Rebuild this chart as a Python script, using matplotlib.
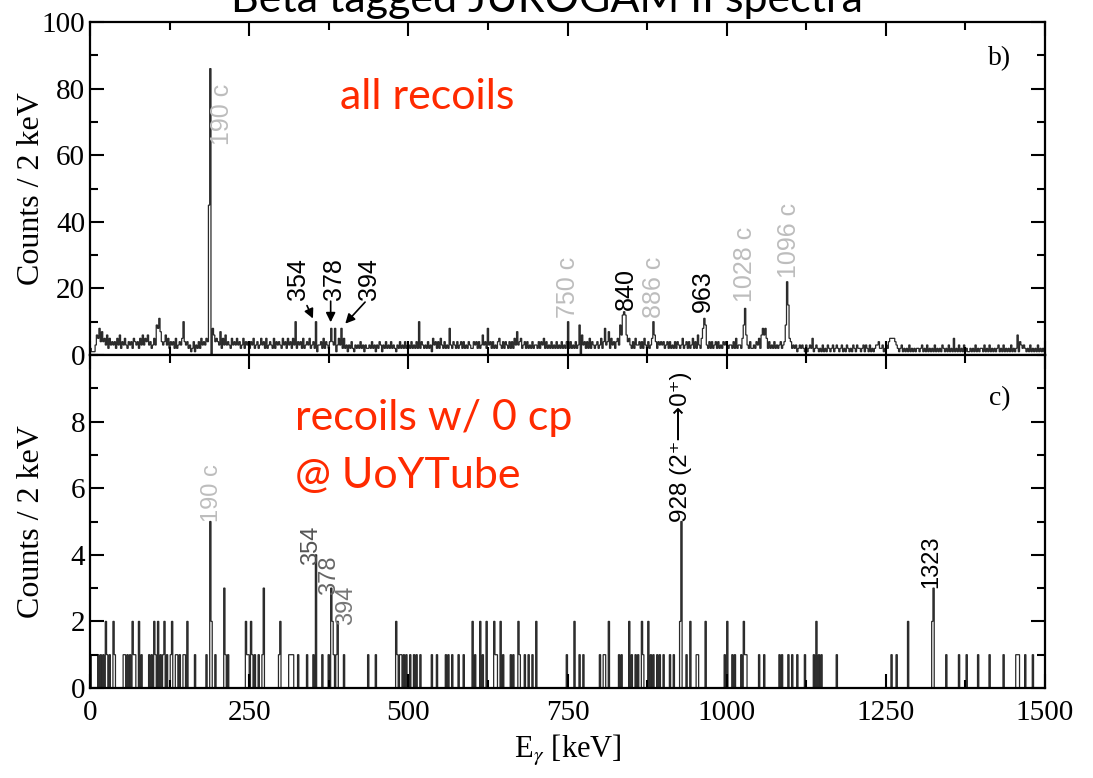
import numpy as np
import matplotlib
matplotlib.use("Agg")
import matplotlib.pyplot as plt
from matplotlib.ticker import MultipleLocator

plt.rcParams["mathtext.fontset"] = "stix"

# ---- data ---------------------------------------------------------------
bin_width = 2  # keV
energy_max = 1500

# top spectrum "all recoils": background read per 2 keV bin (one digit per bin,
# each row = 100 keV), taller bins listed separately
top_rows = [
    "2111365847" "4536253434" "2536243532" "4342543425" "3635463423",  # 0-98
    "5398574346" "3524342523" "4352434231" "2413242534" "3543008645",  # 100-198
    "4372536343" "2534353423" "5243424352" "3423534252" "3432524343",  # 200-298
    "2534253425" "3924342523" "4352342913" "3425243248" "4381353825",  # 300-398
    "2313242132" "3242313223" "2423132431" "3242324232" "1324232423",  # 400-498
    "3242324292" "4323242315" "3424253242" "3283243242" "3424232432",  # 500-598
    "2434242363" "4283424232" "4532424324" "2425373452" "3424232423",  # 600-698
    "3242435242" "3242324232" "4232432423" "2423906342" "4252432342",  # 700-798
    "3524834725" "3424539600" "0645324253" "3424253242" "3596424343",  # 800-898
    "4234242324" "2432352342" "4235242632" "5809324242" "3424232434",  # 900-998
    "3233242523" "3259063242" "2324352686" "8524232423" "2342349005",  # 1000-1098
    "4232312323" "2131232512" "3212131213" "2123123212" "3121321213",  # 1100-1198
    "2132212313" "2131212334" "2231232455" "5543212312" "1213121212",  # 1200-1298
    "2123121312" "1213121213" "2121312151" "2131213121" "1212131212",  # 1300-1398
    "2131213121" "2123121312" "1213121261" "4323212131" "2121312121",  # 1400-1498
]
top_peaks = {108: 11, 146: 10, 186: 45, 188: 86, 322: 10, 354: 10, 516: 10,
             750: 10, 836: 12, 838: 13, 840: 12, 884: 10, 964: 11,
             1028: 14, 1094: 22, 1096: 15}

# bottom spectrum "recoils w/ 0 cp": sparse, bins with 1 count and the rest
bot_ones = [0, 12, 16, 20, 26, 30, 38, 52, 54, 58, 62, 68, 70, 80, 92, 96,
            102, 110, 114, 120, 126, 134, 136, 140, 146, 148, 164, 182, 196,
            212, 216, 246, 248, 254, 258, 264, 270, 296, 312, 314, 316, 318,
            326, 340, 350, 364, 374, 382, 386, 398, 436, 448, 482, 486,
            488, 492, 496, 502, 508, 512, 518, 536, 544, 558, 562, 568, 578,
            586, 604, 616, 636, 638, 648, 660, 664, 674, 682, 688, 694,
            748, 768, 774, 800, 806, 808, 830, 834, 850, 856, 860, 868, 880,
            884, 890, 894, 900, 910, 916, 936, 952, 954, 996, 1008, 1012,
            1022, 1028, 1030, 1050, 1058, 1082, 1086, 1096, 1102, 1110, 1122,
            1136, 1144, 1148, 1172, 1258, 1266, 1344, 1364, 1376, 1394, 1412,
            1434, 1454, 1456, 1458, 1468, 1480]
bot_multi = {24: 2, 36: 2, 66: 2, 76: 2, 100: 2, 106: 2, 116: 2, 128: 2,
             152: 2, 188: 5, 190: 2, 210: 3, 244: 2, 252: 2, 272: 3, 298: 2,
             354: 4, 378: 3, 380: 2, 388: 2, 480: 2, 600: 2, 612: 2, 622: 2,
             634: 2, 644: 2, 672: 2, 700: 2, 760: 2, 814: 2, 846: 2, 866: 2,
             876: 2, 926: 2, 928: 5, 942: 2, 966: 2, 1000: 2, 1026: 2,
             1140: 2, 1284: 2, 1322: 2, 1324: 3}

# ---- build histograms ----------------------------------------------------
edges = np.arange(0, energy_max + bin_width, bin_width)
top_counts = np.array([int(ch) for ch in "".join(top_rows)], dtype=float)
for e, v in top_peaks.items():
    top_counts[e // bin_width] = v
bot_counts = np.zeros(len(edges) - 1)
for e in bot_ones:
    bot_counts[e // bin_width] = 1
for e, v in bot_multi.items():
    bot_counts[e // bin_width] = v

# ---- figure ---------------------------------------------------------------
W, H = 1093, 778
fig = plt.figure(figsize=(W / 100, H / 100), dpi=100)
fig.patch.set_facecolor("white")

def px_axes(x0, y0, x1, y1):
    return fig.add_axes([x0 / W, 1 - y1 / H, (x1 - x0) / W, (y1 - y0) / H])

ax_top = px_axes(90, 22, 1045, 355)
ax_bot = px_axes(90, 355, 1045, 688)

SERIF = ["Liberation Serif", "DejaVu Serif"]
SANS = ["Liberation Sans", "DejaVu Sans"]
SLIDE = ["Lato", "DejaVu Sans"]
RED = "#FF2A00"
GREY = "#BDBDBD"
LINE = "#2A2A2A"

for ax in (ax_top, ax_bot):
    ax.set_xlim(0, energy_max)
    ax.xaxis.set_major_locator(MultipleLocator(250))
    ax.xaxis.set_minor_locator(MultipleLocator(125))
    ax.tick_params(which="both", direction="in", top=True, right=True,
                   width=1.5, labelsize=21)
    ax.tick_params(which="major", length=10)
    ax.tick_params(which="minor", length=6)
    ax.tick_params(axis="x", pad=9)
    for sp in ax.spines.values():
        sp.set_linewidth(1.6)
    ax.set_ylabel("Counts / 2 keV", family=SERIF, fontsize=23)
    ax.yaxis.set_label_coords(-0.046, 0.5)

ax_top.stairs(top_counts, edges, color=LINE, lw=0.9)
ax_top.set_ylim(0, 100)
ax_top.yaxis.set_major_locator(MultipleLocator(20))
ax_top.yaxis.set_minor_locator(MultipleLocator(10))
ax_top.tick_params(labelbottom=False)

ax_bot.stairs(bot_counts, edges, color=LINE, lw=0.9)
ax_bot.set_ylim(0, 10)
ax_bot.set_yticks([0, 2, 4, 6, 8])
ax_bot.yaxis.set_minor_locator(MultipleLocator(1))
ax_bot.set_xlabel(r"E$_\gamma$ [keV]", family=SERIF, fontsize=22, labelpad=5)
for lab in ax_bot.get_xticklabels() + ax_bot.get_yticklabels() + ax_top.get_yticklabels():
    lab.set_family(SERIF)

# ---- peak labels -----------------------------------------------------------
def vlabel(ax, x, y, s, color="black", size=18):
    ax.text(x, y, s, rotation=90, ha="center", va="bottom", color=color,
            fontsize=size, family=SANS)

vlabel(ax_top, 207, 63, "190 c", GREY)
vlabel(ax_top, 327, 16.5, "354")
vlabel(ax_top, 383, 16.5, "378")
vlabel(ax_top, 438, 16.5, "394")
vlabel(ax_top, 751, 11, "750 c", GREY)
vlabel(ax_top, 842, 13.5, "840")
vlabel(ax_top, 886, 11, "886 c", GREY)
vlabel(ax_top, 963, 13, "963")
vlabel(ax_top, 1029, 16, "1028 c", GREY)
vlabel(ax_top, 1098, 23, "1096 c", GREY)

arrow = dict(arrowstyle="-|>", color="black", lw=1.2, mutation_scale=14)
ax_top.annotate("", xy=(352, 10.2), xytext=(339, 15.6), arrowprops=arrow)
ax_top.annotate("", xy=(378, 9.0), xytext=(378, 17), arrowprops=arrow)
ax_top.annotate("", xy=(398, 8.8), xytext=(435, 16.5), arrowprops=arrow)

ax_top.text(1429, 89, "b)", family=SERIF, fontsize=20, ha="center", va="center")
ax_top.text(393, 74, "all recoils", color=RED, family=SLIDE,
            fontsize=31, ha="left", va="baseline")

vlabel(ax_bot, 192, 5.0, "190 c", GREY, 17)
vlabel(ax_bot, 347, 3.7, "354", "#555555", 17)
vlabel(ax_bot, 375, 2.8, "378", "#666666", 17)
vlabel(ax_bot, 402, 1.9, "394", "#777777", 17)
vlabel(ax_bot, 928, 5.0, "928 (2\u207a\u27f60\u207a)", "black", 17.5)
vlabel(ax_bot, 1321, 3.0, "1323", "black", 17)
ax_bot.text(1429, 8.7, "c)", family=SERIF, fontsize=20, ha="center", va="center")
ax_bot.text(322, 7.75, "recoils w/ 0 cp", color=RED, family=SLIDE,
            fontsize=31, va="baseline")
ax_bot.text(322, 6.0, "@ UoYTube", color=RED, family=SLIDE,
            fontsize=31, va="baseline")

# title, cut by the top edge as in the slide
fig.text(0.5, 1 - 12 / H, "Beta tagged JUROGAM II spectra", ha="center",
         va="baseline", fontsize=31, family=SLIDE)

fig.savefig("out.png", dpi=100)
